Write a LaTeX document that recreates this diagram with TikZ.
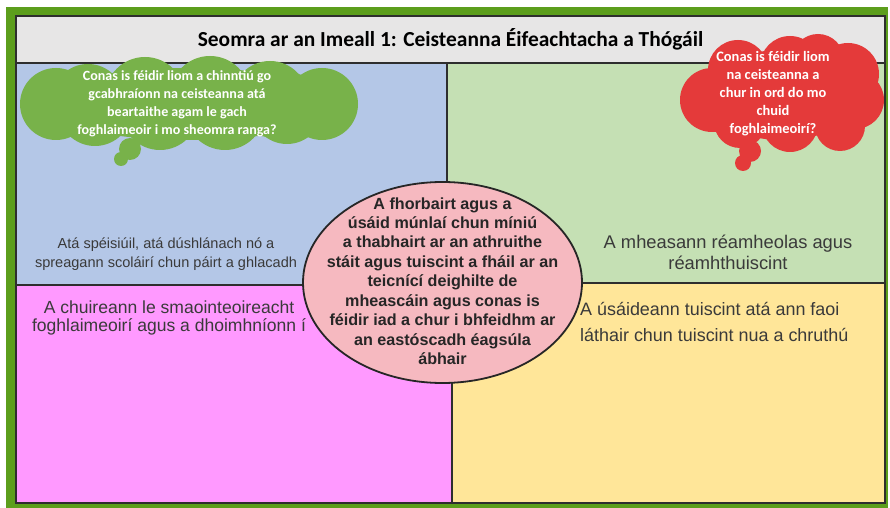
\documentclass[tikz,border=0pt]{standalone}
\usepackage{fontspec}
\setmainfont{Liberation Sans}
\newfontfamily\calib{Carlito}
\usetikzlibrary{shapes.geometric}
\definecolor{frameG}{HTML}{5C9E1C}
\definecolor{titleF}{HTML}{E7E6E6}
\definecolor{qBlue}{HTML}{B4C7E7}
\definecolor{qGreen}{HTML}{C5E0B4}
\definecolor{qPink}{HTML}{FF99FF}
\definecolor{qYellow}{HTML}{FFE699}
\definecolor{ellF}{HTML}{F6B9C0}
\definecolor{cloudG}{HTML}{78B24A}
\definecolor{cloudR}{HTML}{E43A3A}
\definecolor{txt}{HTML}{3A3A3A}
\definecolor{edge}{HTML}{2E2E2E}
\tikzset{
  quad/.style={draw=edge, line width=1.3bp},
  qtext/.style={text=txt, align=center, inner sep=0pt},
  btext/.style={text=white, align=center, inner sep=0pt, font=\calib\bfseries\fontsize{14.1}{18}\selectfont},
}
\begin{document}
\begin{tikzpicture}[x=1bp,y=-1bp]
\useasboundingbox (0,0) rectangle (890,508);
\fill[white] (0,0) rectangle (890,508);
% green frame
\fill[frameG] (6,7) rectangle (888,508);
% panels
\fill[qBlue] (16,63) rectangle (447,285);
\fill[qGreen] (447,63) rectangle (885,283);
\fill[qPink] (16,285) rectangle (452,503);
\fill[qYellow] (452,283) rectangle (885,503);
\draw[quad] (16,63) rectangle (447,285);
\draw[quad] (447,63) rectangle (885,283);
\draw[quad] (16,285) rectangle (452,503);
\draw[quad] (452,283) rectangle (885,503);
% title
\node[draw=edge, line width=1.3bp, fill=titleF, minimum width=869bp, minimum height=47bp, inner sep=0pt,
      font=\calib\bfseries\fontsize{21.5}{24}\selectfont, text=black]
  (title) at (450.5,39.5) {Seomra ar an Imeall 1: Ceisteanna Éifeachtacha a Thógáil};
% quadrant texts
\node[qtext, font=\fontsize{14.6}{18.5}\selectfont] (tl) at (166,254)
  {Atá spéisiúil, atá dúshlánach nó a\\spreagann scoláirí chun páirt a ghlacadh};
\node[qtext, font=\fontsize{18.4}{21}\selectfont] (tr) at (728,252)
  {A mheasann réamheolas agus\\réamhthuiscint};
\node[qtext, font=\fontsize{17.6}{18}\selectfont] (bl) at (169,318)
  {A chuireann le smaointeoireacht\\foghlaimeoirí agus a dhoimhníonn í};
\node[qtext, align=left, anchor=west, font=\fontsize{18}{26}\selectfont] (br) at (580,322)
  {A úsáideann tuiscint atá ann faoi\\láthair chun tuiscint nua a chruthú};
% central ellipse
\node[ellipse, draw=black!85, line width=1.8bp, fill=ellF, minimum width=279bp, minimum height=201bp,
      inner sep=0pt] (centre) at (442.5,282.5) {};
\node[inner sep=0pt, align=center, text=black!85, font=\bfseries\fontsize{16.2}{19.5}\selectfont]
  (ctext) at (442.5,281)
  {A fhorbairt agus a\\úsáid múnlaí chun míniú\\a thabhairt ar an athruithe\\stáit agus tuiscint a fháil ar an\\teicnící deighilte de\\mheascáin agus conas is\\féidir iad a chur i bhfeidhm ar\\an eastóscadh éagsúla\\ábhair};
% green cloud
\fill[cloudG] (189,104) ellipse [x radius=150, y radius=36];
\foreach \x/\y/\r in {56/104/36, 88/100/36, 145/97/40, 210/96/40, 270/99/38, 322/104/36,
                      95/109/37, 160/111/39, 225/110/40, 287/108/36}
  \fill[cloudG] (\x,\y) circle [radius=\r];
\fill[cloudG] (130,149) circle [radius=11];
\fill[cloudG] (121,159) circle [radius=7];
\node[btext] (gtext) at (177,104)
  {Conas is féidir liom a chinntiú go\\gcabhraíonn na ceisteanna atá\\beartaithe agam le gach\\foghlaimeoir i mo sheomra ranga?};
% red cloud
\fill[cloudR] (782,95) ellipse [x radius=80, y radius=45];
\foreach \x/\y/\r in {712/100/32, 738/70/30, 790/66/30, 818/60/26, 848/74/31, 855/100/29,
                      840/126/25, 790/124/28, 740/122/26}
  \fill[cloudR] (\x,\y) circle [radius=\r];
\fill[cloudR] (750,151) circle [radius=11];
\fill[cloudR] (743,163) circle [radius=8];
\node[btext, font=\calib\bfseries\fontsize{14.5}{18}\selectfont] (rtext) at (773,94)
  {Conas is féidir liom\\na ceisteanna a\\chur in ord do mo\\chuid\\foghlaimeoirí?};
\end{tikzpicture}
\end{document}
